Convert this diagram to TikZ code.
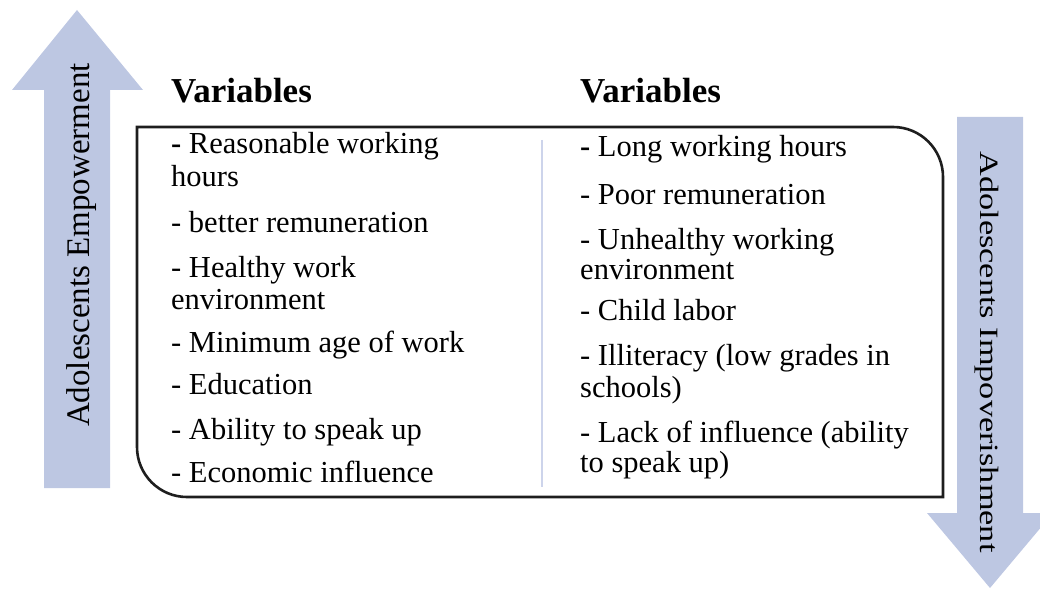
\documentclass[tikz,border=0pt]{standalone}
\usepackage{fontspec}
\setmainfont{Liberation Serif}
\definecolor{arrowblue}{RGB}{189,199,226}
\definecolor{divblue}{RGB}{205,212,235}
\definecolor{boxgray}{RGB}{30,30,30}
\newcommand{\myitemfont}{\fontsize{30.5}{33}\selectfont}
\newcommand{\myheadfont}{\fontsize{35}{38}\selectfont\bfseries}
\newcommand{\mysidefont}{\fontsize{33}{36}\selectfont}
\tikzset{
  arrowshape/.style={fill=arrowblue, draw=none},
  itemtext/.style={anchor=base west, inner sep=0pt, font=\myitemfont},
  headtext/.style={anchor=base west, inner sep=0pt, font=\myheadfont},
  sidetext/.style={anchor=base, inner sep=0pt, font=\mysidefont},
  boxline/.style={draw=boxgray, line width=2.6pt},
  divline/.style={draw=divblue, line width=1.6pt},
}
\begin{document}
\begin{tikzpicture}[x=1pt,y=1pt]
\useasboundingbox (0,0) rectangle (1040,590);
% side arrows
\fill[arrowshape] (44,102) -- (44,500) -- (12,500) -- (77,580) -- (143,500) -- (110,500) -- (110,102) -- cycle;
\fill[arrowshape] (957,473) -- (1023,473) -- (1023,77) -- (1053,77) -- (990,2) -- (927,77) -- (957,77) -- cycle;
\node[sidetext, rotate=90] (empower) at (89,345) {Adolescents Empowerment};
\node[sidetext, rotate=-90] (impover) at (980,238) {\scalebox{1.04}[0.8]{Adolescents Impoverishment}};
% headers
\node[headtext] (hleft) at (171,487) {Variables};
\node[headtext] (hright) at (580,487) {Variables};
% box
\draw[boxline] (137,463) -- (893,463) arc[start angle=90,end angle=0,radius=50] -- (943,93) -- (187,93) arc[start angle=-90,end angle=-180,radius=50] -- cycle;
\coordinate (dtop) at (542,450);
\coordinate (dbot) at (542,103);
\draw[divline] (dtop) -- (dbot);
% left column
\node[itemtext] (l1a) at (171,436) {\textbf{-} Reasonable working};
\node[itemtext] (l1b) at (171,403) {hours};
\node[itemtext] (l2) at (171,358) {- better remuneration};
\node[itemtext] (l3a) at (171,313) {- Healthy work};
\node[itemtext] (l3b) at (171,281) {environment};
\node[itemtext] (l4) at (171,238) {- Minimum age of work};
\node[itemtext] (l5) at (171,196) {- Education};
\node[itemtext] (l6) at (171,151) {- Ability to speak up};
\node[itemtext] (l7) at (171,108) {- Economic influence};
% right column
\node[itemtext] (r1) at (580,433) {\textbf{-} Long working hours};
\node[itemtext] (r2) at (580,385) {- Poor remuneration};
\node[itemtext] (r3a) at (580,341) {- Unhealthy working};
\node[itemtext] (r3b) at (580,311) {environment};
\node[itemtext] (r4) at (580,270) {- Child labor};
\node[itemtext] (r5a) at (580,225) {- Illiteracy (low grades in};
\node[itemtext] (r5b) at (580,193) {schools)};
\node[itemtext] (r6a) at (580,148) {- Lack of influence (ability};
\node[itemtext] (r6b) at (580,118) {to speak up)};
\end{tikzpicture}
\end{document}
